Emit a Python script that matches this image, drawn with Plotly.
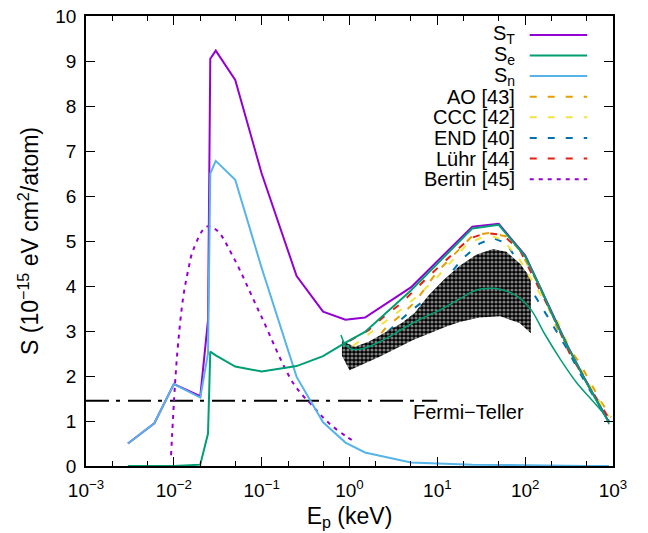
import plotly.graph_objects as go

# ---- stopping power components (keV, 1e-15 eV cm^2/atom) ----
calc_E = [0.003, 0.006, 0.01, 0.02, 0.0245, 0.026, 0.03, 0.05, 0.1, 0.25, 0.5, 0.9,
          1.5, 5, 25, 50, 100, 150, 200, 300, 500, 900]
S_T = [0.5, 0.95, 1.82, 1.55, 3.24, 9.05, 9.23, 8.58, 6.5, 4.22, 3.43, 3.25,
       3.3, 3.97, 5.32, 5.38, 4.68, 3.96, 3.41, 2.69, 1.86, 0.97]
S_e = [0.0, 0.0, 0.0, 0.03, 0.72, 2.54, 2.46, 2.21, 2.1, 2.22, 2.44, 2.74,
       2.98, 3.9, 5.28, 5.36, 4.66, 3.95, 3.4, 2.68, 1.85, 0.96]
S_n = [0.5, 0.95, 1.82, 1.52, 2.5, 6.5, 6.78, 6.36, 4.4, 1.98, 0.97, 0.52,
       0.3, 0.08, 0.03, 0.02, 0.01, 0.01, 0.01, 0.01, 0.0, 0.0]

# second electronic curve (thin line)
se2_E = [0.8, 0.9, 1.05, 1.26, 1.6, 2.2, 3.2, 4.45, 7, 10.8, 19.7, 28, 40, 52,
         83, 117, 165, 254, 390, 598, 826, 900]
se2_S = [2.91, 2.69, 2.6, 2.59, 2.64, 2.76, 2.93, 3.1, 3.3, 3.47, 3.76, 3.91, 3.95, 3.93,
         3.76, 3.47, 2.95, 2.36, 1.84, 1.43, 1.1, 0.93]

# reference calculations
ao_E = [2.3, 2.6, 3.9, 5.6, 9.8, 21, 25.5, 40, 61, 87, 146, 250, 420, 710, 950]
ao_S = [2.95, 3.08, 3.36, 3.65, 4.3, 4.96, 5.13, 5.18, 5.1, 4.8, 3.98, 2.91, 2.28, 1.47, 1.08]

ccc_E = [1.1, 1.7, 2.4, 3.6, 5.8, 10, 21.8, 30.6, 43.5, 56, 87, 124, 231, 355, 598, 900]
ccc_S = [2.67, 2.95, 3.16, 3.43, 3.76, 4.2, 4.93, 5.06, 5.1, 5.02, 4.58, 4.06, 3.24, 2.43, 1.65, 1.1]

end_E = [1.0, 2.0, 5.0, 10, 14.1, 19.2, 30.6, 43.5, 61, 83, 124, 191, 290, 500, 900]
end_S = [2.15, 2.75, 3.45, 3.9, 4.28, 4.6, 4.95, 5.06, 4.95, 4.54, 3.84, 3.24, 2.65, 1.8, 1.0]

luhr_E = [1.0, 1.65, 2.5, 3.8, 8.2, 16.6, 23, 36, 56, 87, 135, 208, 322, 550, 900]
luhr_S = [2.78, 3.02, 3.33, 3.6, 4.24, 4.8, 5.05, 5.18, 5.13, 4.8, 4.07, 3.32, 2.5, 1.73, 1.06]

bertin_E = [0.0093, 0.0103, 0.0112, 0.0128, 0.0146, 0.0166, 0.0236, 0.0308, 0.0473,
            0.0956, 0.229, 0.386, 0.6, 0.93, 1.1]
bertin_S = [0.24, 1.8, 2.73, 3.76, 4.36, 4.8, 5.32, 5.24, 4.65,
            3.39, 1.84, 1.32, 0.93, 0.65, 0.56]

# experimental band (upper and lower edges)
band_up_E = [0.82, 1.15, 1.65, 2.5, 3.9, 5.5, 8, 12, 18, 28, 43, 61, 87, 116]
band_up_S = [2.78, 2.65, 2.76, 2.95, 3.17, 3.4, 3.8, 4.15, 4.45, 4.7, 4.82, 4.76, 4.5, 4.17]
band_lo_E = [0.82, 1.0, 2.2, 5.3, 12.7, 18, 30, 52, 87, 116]
band_lo_S = [2.45, 2.13, 2.43, 2.8, 3.1, 3.2, 3.3, 3.33, 3.17, 2.95]

ft_E = [0.001, 10]
ft_S = [1.45, 1.45]

x_ticks = [1e-3, 1e-2, 1e-1, 1, 10, 100, 1000]
x_ticktext = ["10<sup>\u22123</sup>", "10<sup>\u22122</sup>", "10<sup>\u22121</sup>",
              "10<sup>0</sup>", "10<sup>1</sup>", "10<sup>2</sup>", "10<sup>3</sup>"]

PURPLE = "#9400D3"
GREEN = "#009E73"
LBLUE = "#56B4E9"
ORANGE = "#E69F00"
YELLOW = "#F0E442"
DBLUE = "#0072B2"
RED = "#E51E10"
FONT = "Liberation Sans, Arial, sans-serif"
DASH = "7px,11px"
DOTS = "4px,5px"

fig = go.Figure()

fig.add_trace(go.Scatter(x=ft_E, y=ft_S, mode="lines",
                         line=dict(color="black", width=2, dash="23px,7px,4px,8px")))

fig.add_trace(go.Scatter(x=end_E, y=end_S, mode="lines",
                         line=dict(color=DBLUE, width=2, dash=DASH)))

# hatched band drawn as a closed polygon
band_x = band_up_E + band_lo_E[::-1]
band_y = band_up_S + band_lo_S[::-1]
fig.add_trace(go.Scatter(x=band_x, y=band_y, mode="lines", fill="toself",
                         line=dict(width=0, color="rgba(0,0,0,0)"),
                         fillcolor="black",
                         fillpattern=dict(shape=".", size=4, solidity=0.5,
                                          fgcolor="white", bgcolor="black")))

fig.add_trace(go.Scatter(x=se2_E, y=se2_S, mode="lines",
                         line=dict(color=GREEN, width=1.5, shape="spline")))
fig.add_trace(go.Scatter(x=ao_E, y=ao_S, mode="lines",
                         line=dict(color=ORANGE, width=2, dash=DASH)))
fig.add_trace(go.Scatter(x=ccc_E, y=ccc_S, mode="lines",
                         line=dict(color=YELLOW, width=2, dash=DASH)))
fig.add_trace(go.Scatter(x=luhr_E, y=luhr_S, mode="lines",
                         line=dict(color=RED, width=2, dash=DASH)))
fig.add_trace(go.Scatter(x=bertin_E, y=bertin_S, mode="lines",
                         line=dict(color=PURPLE, width=2, dash=DOTS, shape="spline")))
fig.add_trace(go.Scatter(x=calc_E, y=S_T, mode="lines",
                         line=dict(color=PURPLE, width=2)))
fig.add_trace(go.Scatter(x=calc_E, y=S_n, mode="lines",
                         line=dict(color=LBLUE, width=2)))
fig.add_trace(go.Scatter(x=calc_E, y=S_e, mode="lines",
                         line=dict(color=GREEN, width=2)))

# key: right-aligned labels with line samples to their right
key = [
    ("S<sub>T</sub>", PURPLE, "solid"),
    ("S<sub>e</sub>", GREEN, "solid"),
    ("S<sub>n</sub>", LBLUE, "solid"),
    ("AO [43]", ORANGE, DASH),
    ("CCC [42]", YELLOW, DASH),
    ("END [40]", DBLUE, DASH),
    ("L\u00fchr [44]", RED, DASH),
    ("Bertin [45]", PURPLE, DOTS),
]
row0, row_step = 0.958, 0.0458
shapes = []
annotations = []
for i, (label, color, dash) in enumerate(key):
    yk = row0 - i * row_step
    shapes.append(dict(type="line", xref="paper", yref="paper",
                       x0=0.842, x1=0.951, y0=yk, y1=yk,
                       line=dict(color=color, width=2, dash=dash)))
    annotations.append(dict(xref="paper", yref="paper", x=0.818, y=yk,
                            text=label, showarrow=False, xanchor="right",
                            yanchor="middle", font=dict(family=FONT, size=20, color="black")))

annotations.append(dict(x=1.36, y=1.2, xref="x", yref="y", text="Fermi\u2212Teller",
                        showarrow=False, font=dict(family=FONT, size=20, color="black")))

fig.update_layout(
    width=648, height=533,
    margin=dict(l=86, r=35, t=16, b=67, autoexpand=False),
    paper_bgcolor="white", plot_bgcolor="white",
    showlegend=False,
    font=dict(family=FONT, size=19, color="black"),
    shapes=shapes, annotations=annotations,
)
fig.update_xaxes(type="log", range=[-3, 3], tickvals=x_ticks, ticktext=x_ticktext,
                 automargin=False,
                 ticks="inside", ticklen=9, tickwidth=1, tickcolor="black",
                 ticklabelstandoff=6,
                 minor=dict(ticks="inside", ticklen=5, tickcolor="black", showgrid=False),
                 showline=True, linecolor="black", linewidth=1.5, mirror="allticks",
                 showgrid=False, zeroline=False,
                 title=dict(text="E<sub>p</sub> (keV)", standoff=8))
fig.update_yaxes(range=[0, 10], dtick=1, ticks="inside", ticklen=9, tickwidth=1,
                 automargin=False,
                 tickcolor="black", showline=True, linecolor="black", linewidth=1.5,
                 mirror="allticks", showgrid=False, zeroline=False,
                 ticklabelstandoff=4,
                 title=dict(text="S (10<sup>\u221215</sup> eV cm<sup>2</sup>/atom)", standoff=10))

fig.write_html("out.html")
